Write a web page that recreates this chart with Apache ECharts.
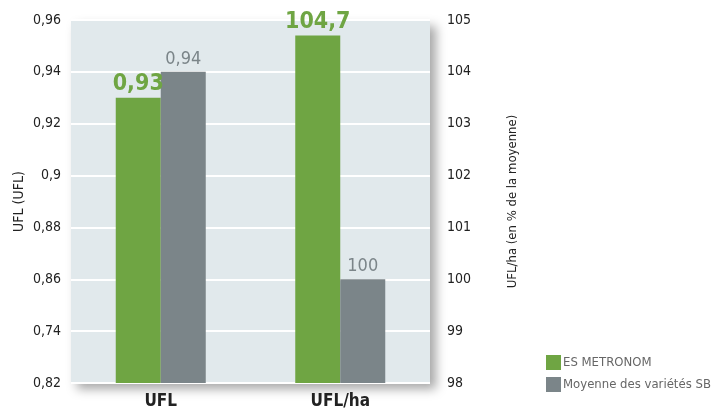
<!DOCTYPE html>
<html><head><meta charset="utf-8">
<script src="https://cdn.jsdelivr.net/npm/echarts@6/dist/echarts.min.js"></script>
<style>html,body{margin:0;padding:0;background:#fff}#c{width:721px;height:412px}</style>
</head><body><div id="c"></div>
<script>
const categories = ['UFL', 'UFL/ha'];
const seriesNames = ['ES METRONOM', 'Moyenne des variétés SB'];
const metronomUFL = [0.93, '-'];
const moyenneUFL = [0.94, '-'];
const metronomHa = ['-', 104.7];
const moyenneHa = ['-', 100];
const leftTickLabels = ['0,82', '0,74', '0,86', '0,88', '0,9', '0,92', '0,94', '0,96'];
const rightTickLabels = ['98', '99', '100', '101', '102', '103', '104', '105'];

const FONT = '"Liberation Sans Narrow","DejaVu Sans Condensed","Roboto",sans-serif';
const GREEN = '#6fa543', GREY = '#7b8589';
const fmt = v => String(v).replace('.', ',');

const greenLabel = {show: true, position: 'top', distance: 2, color: GREEN, fontFamily: FONT, fontWeight: 'bold', fontSize: 23, formatter: p => fmt(p.value)};
const greyLabel = {show: true, position: 'top', distance: 4, color: GREY, fontFamily: FONT, fontSize: 18, formatter: p => fmt(p.value)};

const chart = echarts.init(document.getElementById('c'), null, {renderer: 'canvas'});
chart.setOption({
  animation: false,
  textStyle: {fontFamily: FONT},
  grid: {left: 71, right: 291, top: 20, bottom: 29, show: true, backgroundColor: '#e1e9ec', borderWidth: 0,
         shadowColor: 'rgba(0,0,0,0.35)', shadowBlur: 10, shadowOffsetX: 6, shadowOffsetY: 6},
  legend: {orient: 'vertical', left: 541, top: 350, itemWidth: 15, itemHeight: 15, itemGap: 7,
           icon: 'rect', textStyle: {color: '#666', fontSize: 13, fontFamily: FONT, padding: [0,0,0,-3]},
           data: seriesNames},
  xAxis: {type: 'category', data: categories, axisLine: {show: false}, axisTick: {show: false},
          axisLabel: {color: '#222', fontWeight: 'bold', fontSize: 17, margin: 10, fontFamily: FONT}},
  yAxis: [
    {type: 'value', min: 0.82, max: 0.96, interval: 0.02, position: 'left',
     name: 'UFL (UFL)', nameLocation: 'middle', nameGap: 45, nameRotate: 90,
     nameTextStyle: {color: '#222', fontSize: 14, fontFamily: FONT},
     axisLine: {show: false}, axisTick: {show: false},
     splitLine: {lineStyle: {color: '#ffffff', width: 2}},
     axisLabel: {color: '#222', fontSize: 14, margin: 10, fontFamily: FONT,
                 formatter: v => leftTickLabels[Math.round((v - 0.82) / 0.02)]}},
    {type: 'value', min: 98, max: 105, interval: 1, position: 'right',
     name: 'UFL/ha (en % de la moyenne)', nameLocation: 'middle', nameGap: 76, nameRotate: 90,
     nameTextStyle: {color: '#222', fontSize: 13, fontFamily: FONT},
     axisLine: {show: false}, axisTick: {show: false}, splitLine: {show: false},
     axisLabel: {color: '#222', fontSize: 14, margin: 17, fontFamily: FONT,
                 formatter: v => rightTickLabels[Math.round(v - 98)]}}
  ],
  series: [
    {name: seriesNames[0], type: 'bar', yAxisIndex: 0, stack: 'g', data: metronomUFL, barWidth: 45, barGap: 0,
     itemStyle: {color: GREEN}, label: greenLabel},
    {name: seriesNames[1], type: 'bar', yAxisIndex: 0, stack: 'r', data: moyenneUFL, barWidth: 45, barGap: 0,
     itemStyle: {color: GREY}, label: greyLabel},
    {name: seriesNames[0], type: 'bar', yAxisIndex: 1, stack: 'g', data: metronomHa, barWidth: 45, barGap: 0,
     itemStyle: {color: GREEN}, label: greenLabel},
    {name: seriesNames[1], type: 'bar', yAxisIndex: 1, stack: 'r', data: moyenneHa, barWidth: 45, barGap: 0,
     itemStyle: {color: GREY}, label: greyLabel}
  ]
});
</script></body></html>
